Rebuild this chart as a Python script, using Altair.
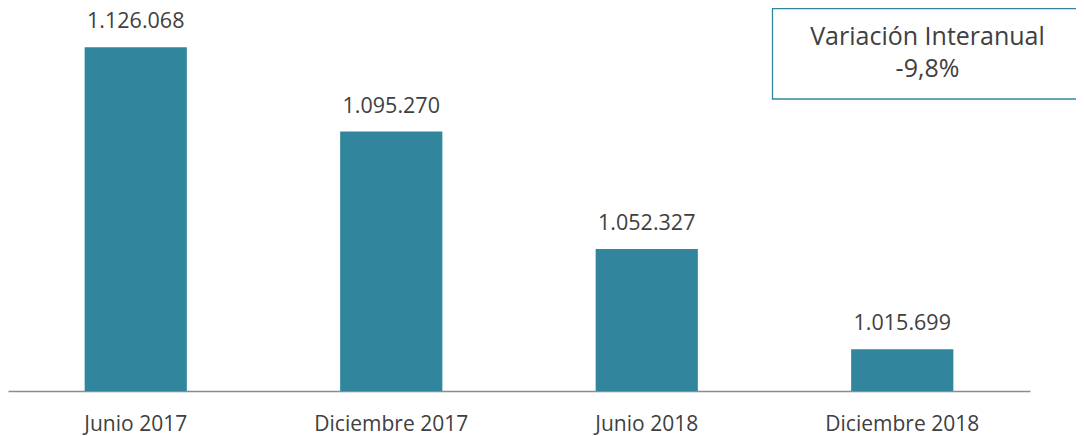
import altair as alt
import pandas as pd

categories = ["Junio 2017", "Diciembre 2017", "Junio 2018", "Diciembre 2018"]
values = [1126068, 1095270, 1052327, 1015699]
labels = ["1.126.068", "1.095.270", "1.052.327", "1.015.699"]
box_lines = ["Variación Interanual", "-9,8%"]

Y_MIN = 1000459
Y_MAX = 1140429
W, H = 1022, 383
FONT = "Open Sans"
TXT = "#404040"
TEAL = "#31869E"

df = pd.DataFrame({"cat": categories, "val": values, "lab": labels})

x = alt.X("cat:N", sort=categories, title=None,
          scale=alt.Scale(paddingInner=0.6, paddingOuter=0.3),
          axis=alt.Axis(labelAngle=0, ticks=False, grid=False, labelPadding=22,
                        labelFontSize=21, labelFont=FONT, labelColor=TXT,
                        domainColor="#8C8C8C", domainWidth=1.5))
y = alt.Y("val:Q", title=None, axis=None,
          scale=alt.Scale(domain=[Y_MIN, Y_MAX], zero=False, nice=False))

base = alt.Chart(df)
bars = base.mark_bar(color=TEAL).encode(x=x, y=y, y2=alt.datum(Y_MIN))
text = base.mark_text(font=FONT, fontSize=21.5, color=TXT, baseline="alphabetic", dy=-19).encode(
    x=x, y=y, text="lab:N")

box = alt.Chart(pd.DataFrame({"a": [0]})).mark_rect(
    fill="white", stroke=TEAL, strokeWidth=1.3).encode(
    x=alt.value(764.5), x2=alt.value(1100), y=alt.value(0.5), y2=alt.value(91))
box_df = pd.DataFrame({"t": box_lines, "yy": [37, 69]})
box_text = alt.Chart(box_df).mark_text(font=FONT, fontSize=25, color=TXT,
                                       baseline="alphabetic", align="center").encode(
    x=alt.value(919.5), y=alt.Y("yy:Q", scale=None), text="t:N")

chart = alt.layer(bars, text, box, box_text).properties(
    width=W, height=H,
    autosize=alt.AutoSizeParams(type="none"),
    padding={"left": 0, "top": 0, "right": 46, "bottom": 46},
).configure_view(stroke=None)

chart.save("out.html", embed_options={"renderer": "svg", "actions": False})
